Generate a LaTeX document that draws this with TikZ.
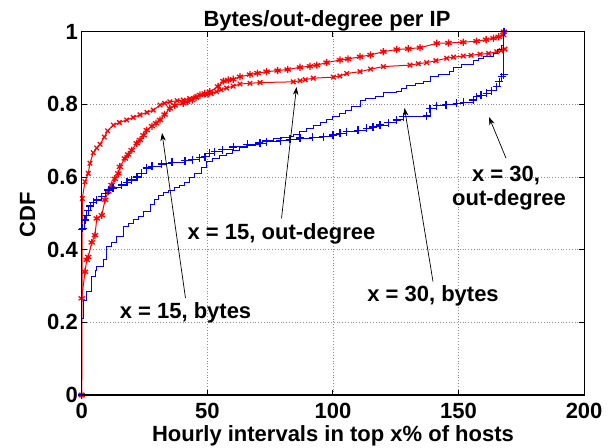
\documentclass[tikz,border=0pt]{standalone}
\usepackage{fontspec}
\setmainfont{Liberation Sans}
\usetikzlibrary{arrows.meta,plotmarks}
\begin{document}
\begin{tikzpicture}[x=1pt,y=-1pt,
  lbl/.style={font=\fontsize{22}{24}\selectfont\bfseries, inner sep=0pt},
  gridln/.style={black!45, dotted, line width=0.8pt},
  axisln/.style={black, line width=1.2pt},
  tickln/.style={black, line width=1pt},
  arr/.style={-{Stealth[length=8pt,width=5.5pt]}, black, line width=0.7pt},
  redcurve/.style={red, line width=1pt, mark options={solid, draw=red, line width=1.3pt}},
  bluecurve/.style={blue, line width=1pt, mark options={solid, draw=blue, line width=1.3pt}}]
\useasboundingbox (0,0) rectangle (615,447);
\fill[white] (0,0) rectangle (615,447);

\begin{scope}[shift={(81.7,395)}, x=2.512pt, y=363.3pt]
  % grid
  \foreach \gx in {50,100,150} \draw[gridln] (\gx,0) -- (\gx,1);
  \foreach \gy in {0.2,0.4,0.6,0.8} \draw[gridln] (0,\gy) -- (200,\gy);

  % x = 15, out-degree (red, x marks)
  \draw[redcurve] plot[mark=x, mark size=3.2pt] coordinates {
    (0,0) (0.25,0.541) (1.3,0.587) (2.6,0.61) (3.3,0.638) (4.6,0.667) (6,0.68) (7.3,0.69)
    (9,0.71) (10.3,0.727) (12.6,0.743) (15,0.75) (17.9,0.757) (20.5,0.764) (23.2,0.771)
    (26,0.778) (28.5,0.784) (31.2,0.798) (33,0.803) (35.1,0.807) (38,0.81) (40.4,0.812)
    (43,0.816) (45.8,0.821) (49.8,0.826) (51.5,0.83) (53.7,0.835) (55.5,0.84) (57.7,0.845)
    (60.3,0.85) (63,0.856) (67,0.858) (71,0.86) (84.2,0.862) (86.9,0.865) (89,0.868)
    (92.2,0.872) (100.2,0.875) (102.8,0.878) (105.5,0.885) (110.8,0.89) (115,0.897)
    (120.1,0.904) (130.7,0.908) (134,0.912) (137.3,0.915) (141,0.92) (145.3,0.927)
    (148,0.93) (151.9,0.933) (155,0.935) (158.6,0.938) (162,0.94) (165.2,0.945)
    (167,0.948) (168.5,0.952)};

  % x = 15, bytes (red, asterisks)
  \draw[redcurve] plot[mark=asterisk, mark size=3.6pt] coordinates {
    (0,0) (0,0.266) (1.3,0.339) (2,0.372) (2.6,0.38) (4,0.42) (5.3,0.44) (6,0.486) (8,0.495)
    (9.3,0.537) (10.6,0.56) (11.9,0.578) (13.2,0.595) (14.6,0.61) (15.2,0.628) (17.2,0.651)
    (18.5,0.662) (19.9,0.674) (21.9,0.693) (23.2,0.702) (24.6,0.715) (25.9,0.729) (28,0.74)
    (29.6,0.748) (31.2,0.757) (33,0.772) (35.1,0.789) (37,0.797) (40.4,0.803) (42,0.807)
    (44,0.812) (45.5,0.819) (47.1,0.826) (49,0.83) (51,0.835) (54.3,0.849) (56.4,0.864)
    (58.3,0.867) (60.3,0.869) (63,0.876) (67,0.882) (70,0.886) (73.6,0.89) (78,0.893)
    (82,0.896) (86.9,0.902) (90.9,0.905) (93.6,0.908) (97.5,0.915) (102.8,0.922) (106,0.925)
    (110.8,0.931) (115,0.936) (120.1,0.945) (125.4,0.951) (130,0.953) (134.7,0.956)
    (141.3,0.968) (146,0.969) (151.9,0.971) (157.2,0.974) (161,0.978) (163.9,0.982)
    (166,0.986) (167.8,0.991) (168.1,1.0)};

  % x = 30, bytes (blue, steps)
  \draw[bluecurve] plot[const plot] coordinates {
    (0,0) (0,0.211) (0.6,0.261) (2,0.284) (4,0.326) (5.3,0.344) (6,0.353) (8.6,0.372)
    (10,0.408) (12,0.42) (13.9,0.436) (16.6,0.463) (18.5,0.472) (20.5,0.482) (22.5,0.49)
    (24.5,0.505) (27.2,0.523) (29,0.537) (30.5,0.55) (32.5,0.557) (34.5,0.564) (37,0.572)
    (39,0.578) (41.1,0.585) (43,0.598) (45,0.61) (47.5,0.625) (49.8,0.642) (52,0.65)
    (55,0.658) (57.7,0.665) (60,0.672) (63,0.68) (65.7,0.688) (69,0.694) (72,0.7)
    (76.3,0.705) (79.5,0.708) (82.9,0.711) (84.5,0.718) (86.9,0.725) (89.5,0.733)
    (92.2,0.743) (95,0.75) (97.5,0.757) (100,0.766) (102.8,0.775) (105,0.782)
    (107.5,0.795) (110.8,0.81) (113,0.815) (117,0.822) (120.1,0.832) (125.4,0.835)
    (127.5,0.845) (129.4,0.853) (133,0.857) (136,0.862) (138.7,0.876) (142,0.882)
    (146.6,0.89) (147.9,0.902) (151,0.91) (155.9,0.92) (158,0.926) (160,0.932)
    (163.9,0.941) (165.5,0.95) (167.2,0.961) (167.8,0.972) (168,1.0)};

  % x = 30, out-degree (blue, + marks)
  \draw[bluecurve] plot[const plot, mark=+, mark size=4pt] coordinates {
    (0,0) (0,0.456) (0.4,0.459) (1.3,0.482) (2,0.495) (2.6,0.507) (3.5,0.52) (4.6,0.53)
    (6,0.537) (8,0.546) (9.5,0.555) (10.6,0.564) (12.5,0.57) (15.9,0.578) (18,0.585)
    (19.9,0.592) (22,0.6) (23.9,0.61) (25.9,0.625) (28,0.629) (31.8,0.636) (36,0.64)
    (41.1,0.645) (44,0.648) (47,0.653) (49.1,0.656) (51,0.665) (53,0.67) (56,0.675)
    (60.3,0.683) (66,0.69) (71,0.693) (73.6,0.697) (79,0.7) (82.9,0.704) (86.9,0.707)
    (92,0.709) (96.2,0.711) (100,0.716) (102.8,0.72) (105.5,0.725) (110,0.729)
    (113.5,0.734) (116,0.738) (118.7,0.743) (122,0.75) (125.4,0.757) (128,0.766)
    (137.3,0.768) (138.7,0.788) (141.3,0.796) (145,0.799) (149.3,0.803) (152,0.806)
    (155.9,0.812) (157.2,0.821) (159,0.825) (161.2,0.83) (163,0.838) (165.2,0.849)
    (166.3,0.862) (167.2,0.876) (168,0.882) (168.1,1.0)};

  % axes box and ticks
  \draw[axisln] (0,0) rectangle (200,1);
  \foreach \gx in {50,100,150} {
    \draw[tickln] (\gx,0) -- (\gx,0.014);
    \draw[tickln] (\gx,1) -- (\gx,0.986);}
  \foreach \gy in {0.2,0.4,0.6,0.8} {
    \draw[tickln] (0,\gy) -- (2,\gy);
    \draw[tickln] (200,\gy) -- (198,\gy);}
\end{scope}

% tick labels
\node[lbl] (xt0)   at (81.7,411) {0};
\node[lbl] (xt50)  at (207.3,411) {50};
\node[lbl] (xt100) at (332.9,411) {100};
\node[lbl] (xt150) at (458.5,411) {150};
\node[lbl] (xt200) at (584.1,411) {200};
\node[lbl, anchor=east] (yt0)  at (78,395) {0};
\node[lbl, anchor=east] (yt2)  at (78,322.3) {0.2};
\node[lbl, anchor=east] (yt4)  at (78,249.7) {0.4};
\node[lbl, anchor=east] (yt6)  at (78,177) {0.6};
\node[lbl, anchor=east] (yt8)  at (78,104.4) {0.8};
\node[lbl, anchor=east] (yt10) at (78,31.7) {1};

% axis labels and title
\node[lbl, anchor=base] (xlab) at (333,441.7) {Hourly intervals in top x\% of hosts};
\node[lbl, anchor=base, rotate=90] (ylab) at (35,215) {CDF};
\node[lbl, anchor=base] (title) at (327,26.7) {Bytes/out-degree per IP};

% annotations
\node[lbl, anchor=base] (l15b) at (185.5,318.3) {x = 15, bytes};
\node[lbl, anchor=base] (l15o) at (281.5,239.5) {x = 15, out-degree};
\node[lbl, anchor=base] (l30b) at (433,301.7) {x = 30, bytes};
\node[lbl, anchor=base] (l30o) at (506,181.7) {x = 30,};
\node[lbl, anchor=base] (l30o2) at (509,205) {out-degree};

\coordinate (t15b) at (162,133);
\coordinate (t15o) at (296.5,87);
\coordinate (t30b) at (404.5,108);
\coordinate (t30o) at (489,117);

\draw[arr] ([yshift=4pt]l15b.north) -- (t15b);
\draw[arr] ([yshift=5pt]l15o.north) -- (t15o);
\draw[arr] ([yshift=4pt]l30b.north) -- (t30b);
\draw[arr] ([yshift=8pt]l30o.north) -- (t30o);
\end{tikzpicture}
\end{document}
